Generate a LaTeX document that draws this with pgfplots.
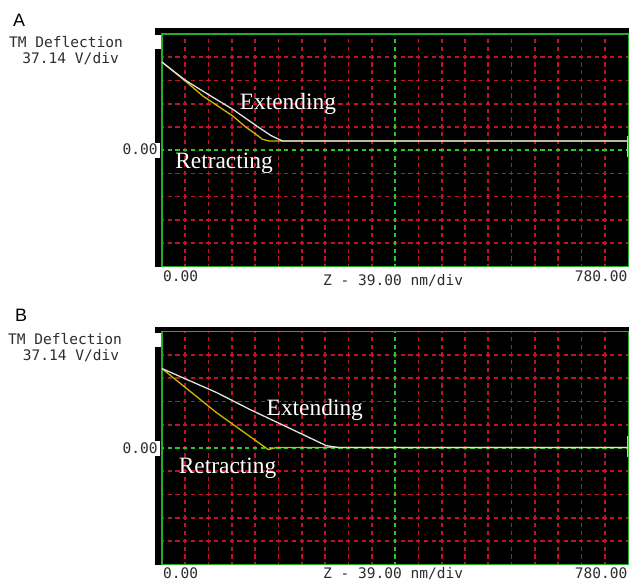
\documentclass[border=0pt]{standalone}
\usepackage{pgfplots}
\pgfplotsset{compat=1.18}
\usepackage{fontspec}
\setmainfont{Liberation Serif}
\newfontfamily\monofont{DejaVu Sans Mono}
\newfontfamily\panelfont{Liberation Sans}
\definecolor{gridred}{RGB}{190,20,40}
\definecolor{gridgreen}{RGB}{40,200,40}
\definecolor{bordergreen}{RGB}{40,170,40}
\definecolor{curvewhite}{RGB}{225,225,225}
\definecolor{curveyellow}{RGB}{205,185,0}
\definecolor{labelgray}{RGB}{45,45,45}

\pgfplotsset{
  afmpanel/.style={
    scale only axis, width=466.5bp, height=232.5bp, anchor=south west,
    xmin=0, xmax=780, ymin=-5, ymax=5,
    axis background/.style={fill=black},
    axis line style={draw=bordergreen, line width=1.3bp},
    xtick={39,78,117,156,195,234,273,312,351,429,468,507,546,585,624,663,702,741},
    ytick={-4,-3,-2,-1,1,2,3,4},
    xticklabels={}, yticklabels={},
    major tick length=0pt,
    grid=major,
    major grid style={gridred, line width=1.7bp, dash pattern=on 4.2bp off 3.57bp, dash phase=2.1bp},
    extra x ticks={390}, extra y ticks={0},
    extra x tick labels={}, extra y tick labels={},
    extra tick style={grid=major, major grid style={gridgreen, line width=1.5bp, dash pattern=on 4.2bp off 3.57bp, dash phase=2.1bp}},
    clip=true,
  },
  curve/.style={line width=1.3bp, no markers},
}
\tikzset{mono/.style={font=\monofont\fontsize{14.6}{16}\selectfont, inner sep=0, text=labelgray}}

\begin{document}
\begin{tikzpicture}
\begin{scope}[x=1bp,y=1bp]
\useasboundingbox (0,0) rectangle (629,583);
\fill[white] (0,0) rectangle (629,583);
% ---------- Panel A frame and labels ----------
\fill[black] (155,316) rectangle (629,555);
\fill[white] (155,534) rectangle (162,548);
\fill[white] (155,425) rectangle (160,440);
\node[anchor=base west, font=\panelfont\fontsize{18}{20}\selectfont, inner sep=0] at (13,556) {A};
\node[anchor=base west, mono] at (9,535) {TM Deflection};
\node[anchor=base west, mono] at (22.3,519.5) {37.14 V/div};
\node[anchor=base east, mono] at (158,428) {0.00};
\node[anchor=base west, mono] at (163,301) {0.00};
\node[anchor=base west, mono] at (323,297) {Z - 39.00 nm/div};
\node[anchor=base east, mono] at (628,301) {780.00};
% ---------- Panel B frame and labels ----------
\fill[black] (155,18) rectangle (629,256);
\fill[white] (155,236) rectangle (162,250);
\fill[white] (155,127) rectangle (160,142);
\node[anchor=base west, font=\panelfont\fontsize{18}{20}\selectfont, inner sep=0] at (15,261) {B};
\node[anchor=base west, mono] at (8,238) {TM Deflection};
\node[anchor=base west, mono] at (22.7,222) {37.14 V/div};
\node[anchor=base east, mono] at (158,129.7) {0.00};
\node[anchor=base west, mono] at (163,4.5) {0.00};
\node[anchor=base west, mono] at (323,4) {Z - 39.00 nm/div};
\node[anchor=base east, mono] at (628,4.5) {780.00};
\end{scope}

\begin{axis}[afmpanel, at={(162bp,316.5bp)}]
\addplot[curve, curveyellow] coordinates {
(0,3.79) (38,3.00) (69,2.32) (119,1.46) (140,1.00) (158,0.67) (168,0.47) (180,0.39) (780,0.39)};
\addplot[curve, curvewhite] coordinates {
(0,3.79) (38,3.03) (69,2.53) (119,1.75) (163,0.96) (183,0.62) (202,0.39) (780,0.39)};
\addplot[line width=2bp, color={rgb,255:red,160;green,230;blue,160}, no markers] coordinates {(780,-0.3) (780,0.6)};
\node[anchor=base west, text=white, font=\fontsize{23.5}{26}\selectfont, inner sep=0] at (axis cs:130,1.77) {Extending};
\node[anchor=base west, text=white, font=\fontsize{23.5}{26}\selectfont, inner sep=0] at (axis cs:22,-0.81) {Retracting};
\end{axis}

\begin{axis}[afmpanel, at={(162bp,18.5bp)}]
\addplot[curve, curveyellow] coordinates {
(0,3.42) (36,2.67) (92,1.51) (147,0.50) (178,-0.07) (191,0.02) (780,0.02)};
\addplot[curve, curvewhite] coordinates {
(0,3.42) (92,2.38) (147,1.66) (230,0.65) (275,0.10) (296,0.02) (780,0.02)};
\addplot[line width=2bp, color={rgb,255:red,160;green,230;blue,160}, no markers] coordinates {(780,-0.4) (780,0.5)};
\node[anchor=base west, text=white, font=\fontsize{23.5}{26}\selectfont, inner sep=0] at (axis cs:175,1.41) {Extending};
\node[anchor=base west, text=white, font=\fontsize{23.5}{26}\selectfont, inner sep=0] at (axis cs:28,-1.08) {Retracting};
\end{axis}
\end{tikzpicture}
\end{document}
